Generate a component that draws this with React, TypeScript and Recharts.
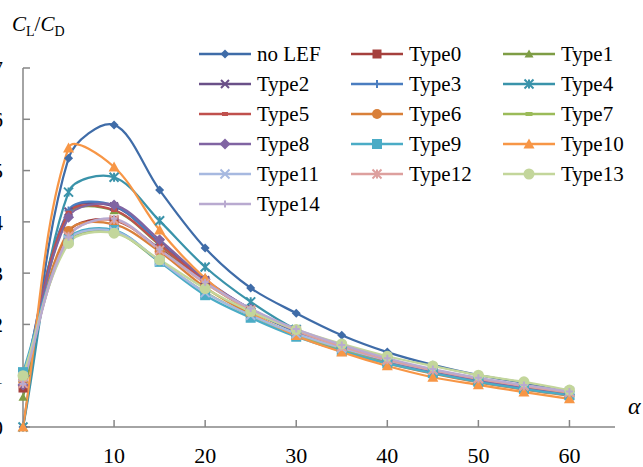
import React from "react";
import { LineChart, Line, XAxis, YAxis, Legend } from "recharts";

const alpha = [0, 5, 10, 15, 20, 25, 30, 35, 40, 45, 50, 55, 60];

const noLef = [0, 5.24, 5.89, 4.62, 3.49, 2.71, 2.22, 1.79, 1.46, 1.21, 1.01, 0.86, 0.68];
const type0 = [0.76, 3.8, 4.03, 3.48, 2.83, 2.29, 1.89, 1.57, 1.31, 1.1, 0.93, 0.79, 0.66];
const type1 = [0.58, 4.15, 4.22, 3.55, 2.82, 2.27, 1.86, 1.54, 1.28, 1.07, 0.9, 0.76, 0.63];
const type2 = [0.86, 4.2, 4.3, 3.6, 2.86, 2.3, 1.88, 1.56, 1.3, 1.09, 0.92, 0.77, 0.64];
const type3 = [0.88, 4.22, 4.32, 3.58, 2.84, 2.28, 1.86, 1.54, 1.28, 1.07, 0.9, 0.76, 0.63];
const type4 = [0, 4.58, 4.87, 4.02, 3.12, 2.44, 1.9, 1.55, 1.28, 1.07, 0.89, 0.75, 0.62];
const type5 = [0.8, 4.18, 4.23, 3.56, 2.84, 2.29, 1.88, 1.56, 1.3, 1.09, 0.92, 0.78, 0.65];
const type6 = [0.9, 3.82, 3.95, 3.42, 2.72, 2.2, 1.8, 1.49, 1.24, 1.04, 0.87, 0.73, 0.61];
const type7 = [0.95, 3.62, 3.8, 3.22, 2.63, 2.17, 1.8, 1.52, 1.28, 1.09, 0.93, 0.79, 0.67];
const type8 = [0.82, 4.09, 4.33, 3.65, 2.88, 2.3, 1.88, 1.55, 1.29, 1.08, 0.91, 0.76, 0.63];
const type9 = [1.07, 3.66, 3.84, 3.22, 2.57, 2.13, 1.76, 1.48, 1.24, 1.05, 0.88, 0.74, 0.62];
const type10 = [0, 5.44, 5.07, 3.84, 2.9, 2.24, 1.78, 1.46, 1.19, 0.97, 0.82, 0.68, 0.55];
const type11 = [0.98, 3.64, 3.82, 3.24, 2.62, 2.18, 1.82, 1.54, 1.3, 1.11, 0.95, 0.81, 0.69];
const type12 = [0.85, 3.72, 4.04, 3.45, 2.8, 2.28, 1.88, 1.57, 1.31, 1.11, 0.94, 0.8, 0.67];
const type13 = [1.0, 3.58, 3.78, 3.26, 2.7, 2.25, 1.9, 1.62, 1.38, 1.19, 1.01, 0.88, 0.72];
const type14 = [0.84, 3.7, 4.06, 3.46, 2.82, 2.31, 1.91, 1.6, 1.34, 1.13, 0.96, 0.82, 0.69];

const xTicks = [10, 20, 30, 40, 50, 60];
const yTicks = [0, 1, 2, 3, 4, 5, 6, 7];

const series = [
  { key: "noLef", name: "no LEF", values: noLef, color: "#3F6CA8", marker: "diamond", size: 9 },
  { key: "type0", name: "Type0", values: type0, color: "#A5403D", marker: "square", size: 9 },
  { key: "type1", name: "Type1", values: type1, color: "#7E9D45", marker: "triangle", size: 9 },
  { key: "type2", name: "Type2", values: type2, color: "#6A5088", marker: "x", size: 8 },
  { key: "type3", name: "Type3", values: type3, color: "#4A7DC0", marker: "plus", size: 8 },
  { key: "type4", name: "Type4", values: type4, color: "#3A93AA", marker: "star", size: 9 },
  { key: "type5", name: "Type5", values: type5, color: "#C0504D", marker: "dash", size: 6 },
  { key: "type6", name: "Type6", values: type6, color: "#D9803A", marker: "circle", size: 10 },
  { key: "type7", name: "Type7", values: type7, color: "#9BBB59", marker: "dash", size: 7 },
  { key: "type8", name: "Type8", values: type8, color: "#8064A2", marker: "diamond", size: 11 },
  { key: "type9", name: "Type9", values: type9, color: "#4BACC6", marker: "square", size: 10 },
  { key: "type10", name: "Type10", values: type10, color: "#F79646", marker: "triangle", size: 11 },
  { key: "type11", name: "Type11", values: type11, color: "#A7B9E0", marker: "x", size: 9 },
  { key: "type12", name: "Type12", values: type12, color: "#DDA09E", marker: "star", size: 9 },
  { key: "type13", name: "Type13", values: type13, color: "#C3D69B", marker: "circle", size: 11 },
  { key: "type14", name: "Type14", values: type14, color: "#B9AAD0", marker: "plus", size: 7 },
];

const data = alpha.map((a, i) => {
  const row: Record<string, number> = { alpha: a };
  series.forEach((s) => (row[s.key] = s.values[i]));
  return row;
});

const serif = '"Times New Roman", "Liberation Serif", "DejaVu Serif", serif';

// excel-like smoothing: catmull-rom with tangents scaled by neighbouring chord lengths
const excelSmooth: any = (context: any) => {
  let pts: number[][] = [];
  const dist = (a: number[], b: number[]) => Math.hypot(b[0] - a[0], b[1] - a[1]) || 1;
  return {
    areaStart() {},
    areaEnd() {},
    lineStart() {
      pts = [];
    },
    point(x: number, y: number) {
      pts.push([+x, +y]);
    },
    lineEnd() {
      if (!pts.length) return;
      const n = pts.length;
      context.moveTo(pts[0][0], pts[0][1]);
      for (let i = 0; i < n - 1; i++) {
        const p0 = pts[Math.max(i - 1, 0)];
        const p1 = pts[i];
        const p2 = pts[i + 1];
        const p3 = pts[Math.min(i + 2, n - 1)];
        const d01 = i > 0 ? dist(p0, p1) : 0;
        const d12 = dist(p1, p2);
        const d23 = i + 2 < n ? dist(p2, p3) : 0;
        const a = d12 / (d01 + d12) / 3;
        const b = d12 / (d12 + d23) / 3;
        context.bezierCurveTo(
          p1[0] + (p2[0] - p0[0]) * a,
          p1[1] + (p2[1] - p0[1]) * a,
          p2[0] - (p3[0] - p1[0]) * b,
          p2[1] - (p3[1] - p1[1]) * b,
          p2[0],
          p2[1],
        );
      }
    },
  };
};

function Marker({ kind, cx, cy, color, size }: any) {
  const r = size / 2;
  switch (kind) {
    case "diamond":
      return <path d={`M${cx},${cy - r}L${cx + r},${cy}L${cx},${cy + r}L${cx - r},${cy}Z`} fill={color} />;
    case "square":
      return <rect x={cx - r} y={cy - r} width={size} height={size} fill={color} />;
    case "triangle":
      return <path d={`M${cx},${cy - r}L${cx + r},${cy + r * 0.8}L${cx - r},${cy + r * 0.8}Z`} fill={color} />;
    case "circle":
      return <circle cx={cx} cy={cy} r={r} fill={color} />;
    case "x":
      return (
        <path d={`M${cx - r},${cy - r}L${cx + r},${cy + r}M${cx - r},${cy + r}L${cx + r},${cy - r}`} stroke={color} strokeWidth={2} />
      );
    case "plus":
      return <path d={`M${cx - r},${cy}L${cx + r},${cy}M${cx},${cy - r}L${cx},${cy + r}`} stroke={color} strokeWidth={2} />;
    case "star":
      return (
        <path
          d={`M${cx - r},${cy - r}L${cx + r},${cy + r}M${cx - r},${cy + r}L${cx + r},${cy - r}M${cx},${cy - r}L${cx},${cy + r}`}
          stroke={color}
          strokeWidth={2}
        />
      );
    default:
      return <rect x={cx - r} y={cy - 2} width={size} height={4} fill={color} />;
  }
}

function LegendGrid() {
  return (
    <div
      style={{
        display: "grid",
        gridTemplateColumns: "152px 152px 140px",
        gridAutoRows: "30px",
        fontFamily: serif,
        fontSize: 21,
        color: "#000",
      }}
    >
      {series.map((s) => (
        <div key={s.key} style={{ display: "flex", alignItems: "center" }}>
          <svg width={53} height={30}>
            <line x1={0} x2={52} y1={15} y2={15} stroke={s.color} strokeWidth={2.5} />
            <Marker kind={s.marker} cx={26} cy={15} color={s.color} size={s.size} />
          </svg>
          <span style={{ marginLeft: 5, whiteSpace: "nowrap" }}>{s.name}</span>
        </div>
      ))}
    </div>
  );
}

export default function App() {
  return (
    <div style={{ position: "absolute", left: 0, top: 0, width: 643, height: 467, overflow: "hidden", background: "#fff" }}>
      <div style={{ position: "absolute", left: 12, top: 12, fontFamily: serif, fontSize: 21, whiteSpace: "nowrap" }}>
        <i>C</i>
        <sub style={{ fontSize: 14 }}>L</sub>/<i>C</i>
        <sub style={{ fontSize: 14 }}>D</sub>
      </div>
      <div style={{ position: "absolute", left: 628, top: 393, fontFamily: serif, fontSize: 24, fontStyle: "italic" }}>α</div>
      <div style={{ position: "absolute", left: -17, top: 0 }}>
        <LineChart width={660} height={467} data={data} margin={{ top: 68, right: 28, left: 0, bottom: 0 }}>
          <XAxis
            dataKey="alpha"
            type="number"
            domain={[0, 65]}
            ticks={xTicks}
            height={40}
            stroke="#868686"
            axisLine={{ stroke: "#868686", strokeWidth: 1.5 }}
            tickLine={{ stroke: "#868686", strokeWidth: 1.5 }}
            tickSize={-7}
            tickMargin={27}
            tick={{ fill: "#000", fontSize: 22, fontFamily: serif }}
            interval={0}
          />
          <YAxis
            type="number"
            domain={[0, 7]}
            ticks={yTicks}
            width={40}
            stroke="#868686"
            axisLine={{ stroke: "#868686", strokeWidth: 1.5 }}
            tickLine={{ stroke: "#868686", strokeWidth: 1.5 }}
            tickSize={-7}
            tickMargin={27}
            tick={{ fill: "#000", fontSize: 22, fontFamily: serif }}
            interval={0}
          />
          <Legend
            layout="horizontal"
            verticalAlign="middle"
            content={() => <LegendGrid />}
            wrapperStyle={{ left: 216, top: 39, width: 444, height: 180 }}
          />
          {series.map((s) => (
            <Line
              key={s.key}
              dataKey={s.key}
              name={s.name}
              type={excelSmooth}
              stroke={s.color}
              strokeWidth={2.25}
              isAnimationActive={false}
              dot={(p: any) => (
                <Marker key={`${s.key}-${p.index}`} kind={s.marker} cx={p.cx} cy={p.cy} color={s.color} size={s.size} />
              )}
              activeDot={false}
            />
          ))}
        </LineChart>
      </div>
    </div>
  );
}
